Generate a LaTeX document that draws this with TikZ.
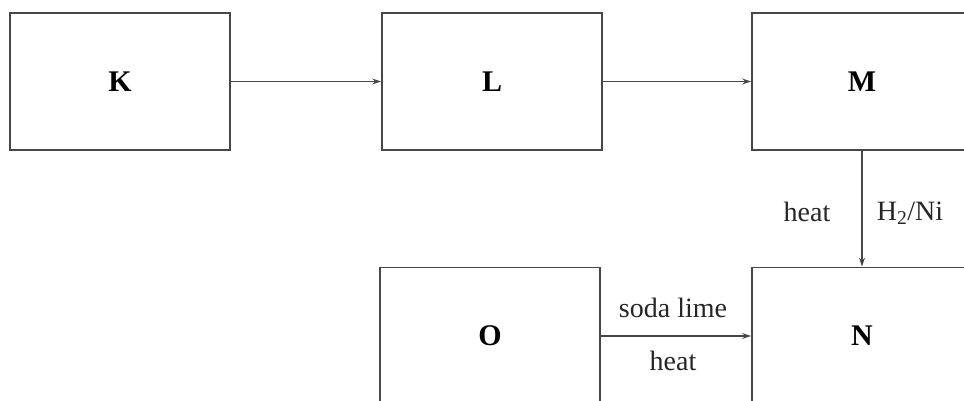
\documentclass[tikz,border=0pt]{standalone}
\usepackage{fontspec}
\setmainfont{Liberation Serif}
\usetikzlibrary{arrows.meta}
\begin{document}
\begin{tikzpicture}[x=1pt,y=-1pt,
  box/.style={draw=black!72,line width=1.8pt,minimum width=220pt,minimum height=137pt,inner sep=0pt,font=\fontsize{30}{32}\selectfont\bfseries},
  conn/.style={draw=black!72,line width=1.5pt,-{Stealth[length=9pt,width=6pt]}},
  lab/.style={font=\fontsize{28}{30}\selectfont,text=black!85,inner sep=0pt}]
\useasboundingbox (0,0) rectangle (964,401);
\clip (0,0) rectangle (964,401);
\node[box] (K) at (120,81.5) {K};
\node[box] (L) at (492,81.5) {L};
\node[box] (M) at (862,81.5) {M};
\node[box] (O) at (490,336) {O};
\node[box] (N) at (862,336) {N};
\draw[conn] (K) -- (L);
\draw[conn] (L) -- (M);
\draw[conn] (M) -- (N);
\draw[conn] (O) -- (N);
\node[lab] (t1) at (807,212) {heat};
\node[lab] (t2) at (910,213) {H\textsubscript{2}/Ni};
\node[lab] (t3) at (673,308) {soda lime};
\node[lab] (t4) at (673,361) {heat};
\end{tikzpicture}
\end{document}
